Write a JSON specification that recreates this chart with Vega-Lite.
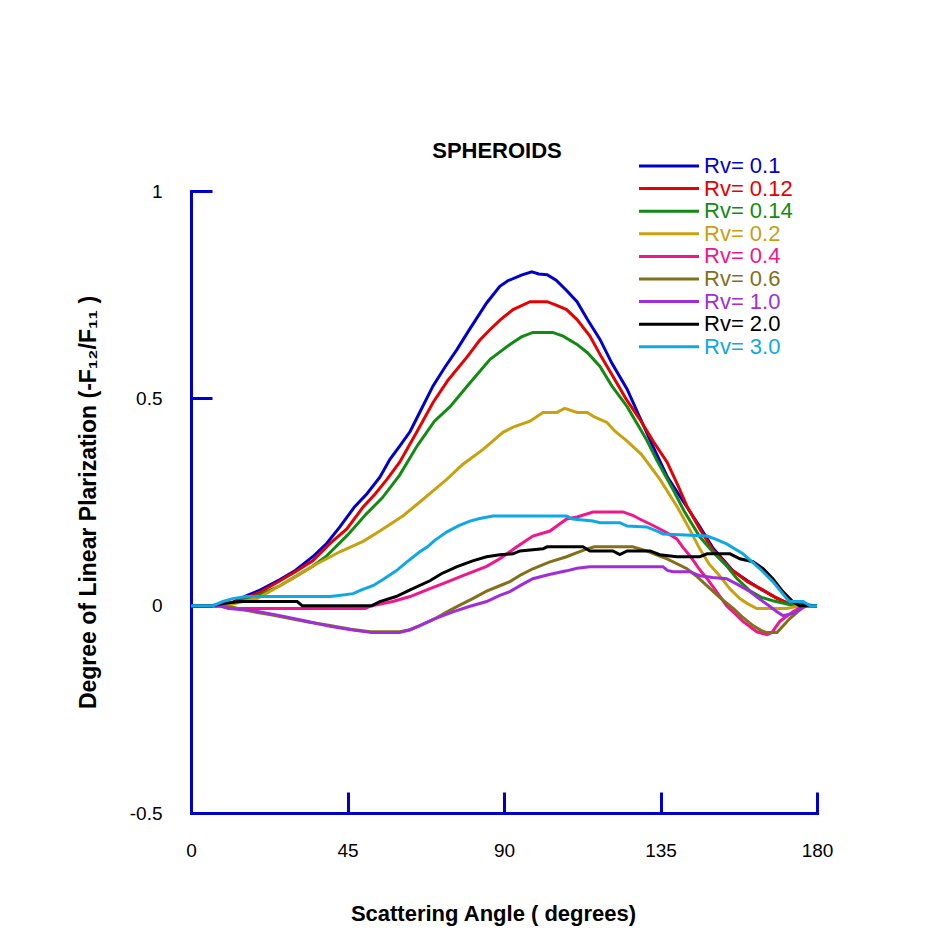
{
  "$schema": "https://vega.github.io/schema/vega-lite/v6.json",
  "width": 626,
  "height": 622,
  "autosize": {"type": "none"},
  "padding": {"left": 191, "top": 191, "right": 124, "bottom": 124},
  "background": "white",
  "title": {"text": "SPHEROIDS", "font": "Liberation Sans", "fontSize": 22, "fontWeight": "bold", "color": "black", "anchor": "middle", "frame": "group", "baseline": "alphabetic", "offset": 33, "dx": -7, "dy": 58},
  "data": {"values": [
    {"Rv":"0.1","angle":0,"P":0},{"Rv":"0.1","angle":8,"P":0},{"Rv":"0.1","angle":12,"P":0.008},{"Rv":"0.1","angle":16,"P":0.024},{"Rv":"0.1","angle":20,"P":0.038},{"Rv":"0.1","angle":25.6,"P":0.063},{"Rv":"0.1","angle":30,"P":0.085},{"Rv":"0.1","angle":35,"P":0.118},{"Rv":"0.1","angle":39,"P":0.15},{"Rv":"0.1","angle":42.8,"P":0.19},{"Rv":"0.1","angle":47,"P":0.238},{"Rv":"0.1","angle":50.6,"P":0.27},{"Rv":"0.1","angle":54.3,"P":0.31},{"Rv":"0.1","angle":57.2,"P":0.353},{"Rv":"0.1","angle":60,"P":0.385},{"Rv":"0.1","angle":63,"P":0.42},{"Rv":"0.1","angle":66,"P":0.47},{"Rv":"0.1","angle":69.6,"P":0.53},{"Rv":"0.1","angle":73,"P":0.575},{"Rv":"0.1","angle":76.5,"P":0.618},{"Rv":"0.1","angle":80,"P":0.665},{"Rv":"0.1","angle":85,"P":0.73},{"Rv":"0.1","angle":88.8,"P":0.77},{"Rv":"0.1","angle":91,"P":0.783},{"Rv":"0.1","angle":95,"P":0.797},{"Rv":"0.1","angle":98,"P":0.805},{"Rv":"0.1","angle":100,"P":0.8},{"Rv":"0.1","angle":102.4,"P":0.798},{"Rv":"0.1","angle":105,"P":0.785},{"Rv":"0.1","angle":108,"P":0.76},{"Rv":"0.1","angle":111,"P":0.733},{"Rv":"0.1","angle":114,"P":0.69},{"Rv":"0.1","angle":117.6,"P":0.642},{"Rv":"0.1","angle":121,"P":0.585},{"Rv":"0.1","angle":125.4,"P":0.522},{"Rv":"0.1","angle":129,"P":0.455},{"Rv":"0.1","angle":132.8,"P":0.385},{"Rv":"0.1","angle":137,"P":0.31},{"Rv":"0.1","angle":142.6,"P":0.238},{"Rv":"0.1","angle":146.3,"P":0.19},{"Rv":"0.1","angle":150,"P":0.14},{"Rv":"0.1","angle":155.8,"P":0.084},{"Rv":"0.1","angle":160,"P":0.06},{"Rv":"0.1","angle":163.6,"P":0.041},{"Rv":"0.1","angle":168,"P":0.02},{"Rv":"0.1","angle":172.2,"P":0.003},{"Rv":"0.1","angle":180,"P":0},

    {"Rv":"0.12","angle":0,"P":0},{"Rv":"0.12","angle":8,"P":0},{"Rv":"0.12","angle":12,"P":0.007},{"Rv":"0.12","angle":16,"P":0.02},{"Rv":"0.12","angle":20,"P":0.033},{"Rv":"0.12","angle":25.6,"P":0.06},{"Rv":"0.12","angle":30,"P":0.082},{"Rv":"0.12","angle":35,"P":0.108},{"Rv":"0.12","angle":40,"P":0.15},{"Rv":"0.12","angle":44.8,"P":0.185},{"Rv":"0.12","angle":49.5,"P":0.238},{"Rv":"0.12","angle":53,"P":0.27},{"Rv":"0.12","angle":56.4,"P":0.305},{"Rv":"0.12","angle":60,"P":0.346},{"Rv":"0.12","angle":65,"P":0.42},{"Rv":"0.12","angle":69.6,"P":0.49},{"Rv":"0.12","angle":74,"P":0.545},{"Rv":"0.12","angle":79.4,"P":0.6},{"Rv":"0.12","angle":83,"P":0.64},{"Rv":"0.12","angle":86,"P":0.666},{"Rv":"0.12","angle":89,"P":0.69},{"Rv":"0.12","angle":92.6,"P":0.714},{"Rv":"0.12","angle":97.5,"P":0.733},{"Rv":"0.12","angle":102.4,"P":0.733},{"Rv":"0.12","angle":105,"P":0.725},{"Rv":"0.12","angle":108,"P":0.714},{"Rv":"0.12","angle":111,"P":0.69},{"Rv":"0.12","angle":114.7,"P":0.65},{"Rv":"0.12","angle":118,"P":0.6},{"Rv":"0.12","angle":121.3,"P":0.553},{"Rv":"0.12","angle":125,"P":0.5},{"Rv":"0.12","angle":129,"P":0.45},{"Rv":"0.12","angle":133,"P":0.395},{"Rv":"0.12","angle":136.9,"P":0.346},{"Rv":"0.12","angle":140,"P":0.29},{"Rv":"0.12","angle":142.6,"P":0.24},{"Rv":"0.12","angle":146.3,"P":0.185},{"Rv":"0.12","angle":150,"P":0.135},{"Rv":"0.12","angle":155,"P":0.09},{"Rv":"0.12","angle":160,"P":0.058},{"Rv":"0.12","angle":164,"P":0.04},{"Rv":"0.12","angle":168,"P":0.02},{"Rv":"0.12","angle":172,"P":0.005},{"Rv":"0.12","angle":180,"P":0},

    {"Rv":"0.14","angle":0,"P":0},{"Rv":"0.14","angle":8,"P":0},{"Rv":"0.14","angle":12,"P":0.005},{"Rv":"0.14","angle":16,"P":0.015},{"Rv":"0.14","angle":20,"P":0.027},{"Rv":"0.14","angle":25.6,"P":0.048},{"Rv":"0.14","angle":30,"P":0.07},{"Rv":"0.14","angle":35,"P":0.095},{"Rv":"0.14","angle":39,"P":0.12},{"Rv":"0.14","angle":45,"P":0.17},{"Rv":"0.14","angle":50.5,"P":0.222},{"Rv":"0.14","angle":55,"P":0.26},{"Rv":"0.14","angle":60,"P":0.315},{"Rv":"0.14","angle":65,"P":0.385},{"Rv":"0.14","angle":70,"P":0.445},{"Rv":"0.14","angle":74.5,"P":0.48},{"Rv":"0.14","angle":80,"P":0.535},{"Rv":"0.14","angle":86,"P":0.594},{"Rv":"0.14","angle":91.7,"P":0.63},{"Rv":"0.14","angle":95,"P":0.648},{"Rv":"0.14","angle":98.3,"P":0.659},{"Rv":"0.14","angle":104,"P":0.659},{"Rv":"0.14","angle":107,"P":0.65},{"Rv":"0.14","angle":111,"P":0.63},{"Rv":"0.14","angle":114,"P":0.61},{"Rv":"0.14","angle":117.6,"P":0.577},{"Rv":"0.14","angle":121,"P":0.53},{"Rv":"0.14","angle":125.4,"P":0.48},{"Rv":"0.14","angle":131,"P":0.4},{"Rv":"0.14","angle":134,"P":0.35},{"Rv":"0.14","angle":138.6,"P":0.28},{"Rv":"0.14","angle":142,"P":0.225},{"Rv":"0.14","angle":146.3,"P":0.166},{"Rv":"0.14","angle":150,"P":0.13},{"Rv":"0.14","angle":154,"P":0.096},{"Rv":"0.14","angle":157,"P":0.065},{"Rv":"0.14","angle":160.7,"P":0.036},{"Rv":"0.14","angle":164,"P":0.02},{"Rv":"0.14","angle":167.3,"P":0.012},{"Rv":"0.14","angle":172,"P":0.003},{"Rv":"0.14","angle":180,"P":0},

    {"Rv":"0.2","angle":0,"P":0},{"Rv":"0.2","angle":8,"P":0},{"Rv":"0.2","angle":12,"P":0.004},{"Rv":"0.2","angle":15,"P":0.01},{"Rv":"0.2","angle":19,"P":0.017},{"Rv":"0.2","angle":25,"P":0.045},{"Rv":"0.2","angle":30.5,"P":0.072},{"Rv":"0.2","angle":36,"P":0.1},{"Rv":"0.2","angle":42.8,"P":0.13},{"Rv":"0.2","angle":49.5,"P":0.155},{"Rv":"0.2","angle":54.3,"P":0.18},{"Rv":"0.2","angle":61,"P":0.217},{"Rv":"0.2","angle":65.8,"P":0.25},{"Rv":"0.2","angle":69.6,"P":0.277},{"Rv":"0.2","angle":73.6,"P":0.305},{"Rv":"0.2","angle":78.2,"P":0.341},{"Rv":"0.2","angle":84,"P":0.377},{"Rv":"0.2","angle":89.7,"P":0.418},{"Rv":"0.2","angle":93,"P":0.432},{"Rv":"0.2","angle":97.5,"P":0.445},{"Rv":"0.2","angle":101.2,"P":0.466},{"Rv":"0.2","angle":105.2,"P":0.466},{"Rv":"0.2","angle":107.5,"P":0.476},{"Rv":"0.2","angle":111,"P":0.466},{"Rv":"0.2","angle":113.9,"P":0.466},{"Rv":"0.2","angle":116,"P":0.455},{"Rv":"0.2","angle":119.6,"P":0.442},{"Rv":"0.2","angle":122,"P":0.42},{"Rv":"0.2","angle":125.4,"P":0.397},{"Rv":"0.2","angle":129.5,"P":0.365},{"Rv":"0.2","angle":134.8,"P":0.305},{"Rv":"0.2","angle":139.7,"P":0.24},{"Rv":"0.2","angle":143,"P":0.19},{"Rv":"0.2","angle":146.3,"P":0.137},{"Rv":"0.2","angle":149,"P":0.1},{"Rv":"0.2","angle":152,"P":0.072},{"Rv":"0.2","angle":155,"P":0.04},{"Rv":"0.2","angle":157.8,"P":0.017},{"Rv":"0.2","angle":160,"P":0.005},{"Rv":"0.2","angle":162.7,"P":-0.007},{"Rv":"0.2","angle":171.3,"P":-0.007},{"Rv":"0.2","angle":175,"P":0},{"Rv":"0.2","angle":180,"P":0},

    {"Rv":"0.4","angle":0,"P":0},{"Rv":"0.4","angle":8,"P":0},{"Rv":"0.4","angle":11,"P":-0.007},{"Rv":"0.4","angle":50,"P":-0.007},{"Rv":"0.4","angle":52,"P":0},{"Rv":"0.4","angle":58,"P":0.01},{"Rv":"0.4","angle":63,"P":0.022},{"Rv":"0.4","angle":68.7,"P":0.041},{"Rv":"0.4","angle":73,"P":0.055},{"Rv":"0.4","angle":78,"P":0.072},{"Rv":"0.4","angle":85,"P":0.095},{"Rv":"0.4","angle":88.8,"P":0.113},{"Rv":"0.4","angle":93.7,"P":0.142},{"Rv":"0.4","angle":98.3,"P":0.168},{"Rv":"0.4","angle":103.2,"P":0.18},{"Rv":"0.4","angle":108,"P":0.209},{"Rv":"0.4","angle":111,"P":0.214},{"Rv":"0.4","angle":115.6,"P":0.226},{"Rv":"0.4","angle":124.2,"P":0.226},{"Rv":"0.4","angle":127,"P":0.218},{"Rv":"0.4","angle":129,"P":0.209},{"Rv":"0.4","angle":132,"P":0.197},{"Rv":"0.4","angle":134.8,"P":0.185},{"Rv":"0.4","angle":137,"P":0.175},{"Rv":"0.4","angle":139.7,"P":0.161},{"Rv":"0.4","angle":141.5,"P":0.14},{"Rv":"0.4","angle":143.5,"P":0.12},{"Rv":"0.4","angle":146,"P":0.09},{"Rv":"0.4","angle":148.4,"P":0.065},{"Rv":"0.4","angle":151,"P":0.035},{"Rv":"0.4","angle":154,"P":0},{"Rv":"0.4","angle":156.5,"P":-0.02},{"Rv":"0.4","angle":158.7,"P":-0.038},{"Rv":"0.4","angle":162.7,"P":-0.063},{"Rv":"0.4","angle":165.6,"P":-0.07},{"Rv":"0.4","angle":167,"P":-0.065},{"Rv":"0.4","angle":169.3,"P":-0.038},{"Rv":"0.4","angle":173,"P":-0.015},{"Rv":"0.4","angle":176,"P":0},{"Rv":"0.4","angle":180,"P":0},

    {"Rv":"0.6","angle":0,"P":0},{"Rv":"0.6","angle":8,"P":0},{"Rv":"0.6","angle":12,"P":-0.004},{"Rv":"0.6","angle":18,"P":-0.015},{"Rv":"0.6","angle":23,"P":-0.022},{"Rv":"0.6","angle":28.5,"P":-0.031},{"Rv":"0.6","angle":34,"P":-0.04},{"Rv":"0.6","angle":40,"P":-0.048},{"Rv":"0.6","angle":46,"P":-0.057},{"Rv":"0.6","angle":51.5,"P":-0.063},{"Rv":"0.6","angle":60,"P":-0.063},{"Rv":"0.6","angle":63,"P":-0.058},{"Rv":"0.6","angle":65.8,"P":-0.048},{"Rv":"0.6","angle":70,"P":-0.032},{"Rv":"0.6","angle":73.6,"P":-0.015},{"Rv":"0.6","angle":77,"P":0},{"Rv":"0.6","angle":81,"P":0.017},{"Rv":"0.6","angle":85,"P":0.035},{"Rv":"0.6","angle":88.8,"P":0.048},{"Rv":"0.6","angle":91.7,"P":0.058},{"Rv":"0.6","angle":95,"P":0.075},{"Rv":"0.6","angle":98.3,"P":0.089},{"Rv":"0.6","angle":103,"P":0.105},{"Rv":"0.6","angle":108,"P":0.118},{"Rv":"0.6","angle":111,"P":0.128},{"Rv":"0.6","angle":113.9,"P":0.137},{"Rv":"0.6","angle":116,"P":0.142},{"Rv":"0.6","angle":127,"P":0.142},{"Rv":"0.6","angle":131,"P":0.132},{"Rv":"0.6","angle":134,"P":0.122},{"Rv":"0.6","angle":136.9,"P":0.113},{"Rv":"0.6","angle":142.6,"P":0.089},{"Rv":"0.6","angle":145.5,"P":0.07},{"Rv":"0.6","angle":148.4,"P":0.048},{"Rv":"0.6","angle":152,"P":0.02},{"Rv":"0.6","angle":156,"P":-0.007},{"Rv":"0.6","angle":158.5,"P":-0.027},{"Rv":"0.6","angle":161.6,"P":-0.048},{"Rv":"0.6","angle":164,"P":-0.06},{"Rv":"0.6","angle":165.6,"P":-0.065},{"Rv":"0.6","angle":168.5,"P":-0.065},{"Rv":"0.6","angle":172.2,"P":-0.031},{"Rv":"0.6","angle":176.5,"P":0},{"Rv":"0.6","angle":180,"P":0},

    {"Rv":"1.0","angle":0,"P":0},{"Rv":"1.0","angle":8,"P":0},{"Rv":"1.0","angle":11,"P":-0.007},{"Rv":"1.0","angle":18,"P":-0.012},{"Rv":"1.0","angle":25.6,"P":-0.024},{"Rv":"1.0","angle":33,"P":-0.037},{"Rv":"1.0","angle":40,"P":-0.05},{"Rv":"1.0","angle":46,"P":-0.058},{"Rv":"1.0","angle":52,"P":-0.065},{"Rv":"1.0","angle":60,"P":-0.065},{"Rv":"1.0","angle":63,"P":-0.058},{"Rv":"1.0","angle":65.8,"P":-0.048},{"Rv":"1.0","angle":70,"P":-0.032},{"Rv":"1.0","angle":75.3,"P":-0.015},{"Rv":"1.0","angle":80,"P":-0.002},{"Rv":"1.0","angle":85,"P":0.01},{"Rv":"1.0","angle":88.8,"P":0.025},{"Rv":"1.0","angle":91.7,"P":0.034},{"Rv":"1.0","angle":95,"P":0.05},{"Rv":"1.0","angle":98.3,"P":0.065},{"Rv":"1.0","angle":103,"P":0.075},{"Rv":"1.0","angle":108,"P":0.084},{"Rv":"1.0","angle":111,"P":0.09},{"Rv":"1.0","angle":114.7,"P":0.094},{"Rv":"1.0","angle":135.7,"P":0.094},{"Rv":"1.0","angle":137,"P":0.085},{"Rv":"1.0","angle":138.6,"P":0.082},{"Rv":"1.0","angle":143.5,"P":0.082},{"Rv":"1.0","angle":146.3,"P":0.072},{"Rv":"1.0","angle":150,"P":0.068},{"Rv":"1.0","angle":154,"P":0.065},{"Rv":"1.0","angle":157,"P":0.052},{"Rv":"1.0","angle":160.7,"P":0.034},{"Rv":"1.0","angle":163.5,"P":0.016},{"Rv":"1.0","angle":166.5,"P":-0.002},{"Rv":"1.0","angle":168.5,"P":-0.015},{"Rv":"1.0","angle":170.2,"P":-0.024},{"Rv":"1.0","angle":173,"P":-0.019},{"Rv":"1.0","angle":177,"P":0},{"Rv":"1.0","angle":180,"P":0},

    {"Rv":"2.0","angle":0,"P":0},{"Rv":"2.0","angle":6,"P":0},{"Rv":"2.0","angle":9.2,"P":0.005},{"Rv":"2.0","angle":14,"P":0.01},{"Rv":"2.0","angle":30.5,"P":0.01},{"Rv":"2.0","angle":32,"P":0},{"Rv":"2.0","angle":52,"P":0},{"Rv":"2.0","angle":54.3,"P":0.01},{"Rv":"2.0","angle":59,"P":0.022},{"Rv":"2.0","angle":63,"P":0.038},{"Rv":"2.0","angle":68.7,"P":0.06},{"Rv":"2.0","angle":72,"P":0.077},{"Rv":"2.0","angle":76.5,"P":0.094},{"Rv":"2.0","angle":81,"P":0.108},{"Rv":"2.0","angle":85,"P":0.118},{"Rv":"2.0","angle":88.8,"P":0.123},{"Rv":"2.0","angle":92.6,"P":0.125},{"Rv":"2.0","angle":94.6,"P":0.132},{"Rv":"2.0","angle":101.2,"P":0.137},{"Rv":"2.0","angle":102.4,"P":0.142},{"Rv":"2.0","angle":112.7,"P":0.142},{"Rv":"2.0","angle":114.7,"P":0.132},{"Rv":"2.0","angle":121.3,"P":0.132},{"Rv":"2.0","angle":123.3,"P":0.123},{"Rv":"2.0","angle":125.4,"P":0.132},{"Rv":"2.0","angle":132,"P":0.132},{"Rv":"2.0","angle":134.8,"P":0.123},{"Rv":"2.0","angle":139.7,"P":0.118},{"Rv":"2.0","angle":146.3,"P":0.118},{"Rv":"2.0","angle":148.4,"P":0.125},{"Rv":"2.0","angle":155,"P":0.125},{"Rv":"2.0","angle":157.8,"P":0.113},{"Rv":"2.0","angle":161.6,"P":0.106},{"Rv":"2.0","angle":164.5,"P":0.089},{"Rv":"2.0","angle":167.3,"P":0.065},{"Rv":"2.0","angle":170.2,"P":0.034},{"Rv":"2.0","angle":173,"P":0.01},{"Rv":"2.0","angle":175,"P":0},{"Rv":"2.0","angle":180,"P":0},

    {"Rv":"3.0","angle":0,"P":0},{"Rv":"3.0","angle":6.3,"P":0},{"Rv":"3.0","angle":9.2,"P":0.01},{"Rv":"3.0","angle":12,"P":0.017},{"Rv":"3.0","angle":16,"P":0.022},{"Rv":"3.0","angle":40,"P":0.022},{"Rv":"3.0","angle":42,"P":0.024},{"Rv":"3.0","angle":46.6,"P":0.029},{"Rv":"3.0","angle":49,"P":0.038},{"Rv":"3.0","angle":52.3,"P":0.048},{"Rv":"3.0","angle":55,"P":0.062},{"Rv":"3.0","angle":59,"P":0.084},{"Rv":"3.0","angle":62,"P":0.105},{"Rv":"3.0","angle":65.8,"P":0.13},{"Rv":"3.0","angle":68,"P":0.142},{"Rv":"3.0","angle":70,"P":0.157},{"Rv":"3.0","angle":73.6,"P":0.178},{"Rv":"3.0","angle":77,"P":0.193},{"Rv":"3.0","angle":80.2,"P":0.204},{"Rv":"3.0","angle":83,"P":0.21},{"Rv":"3.0","angle":86.8,"P":0.216},{"Rv":"3.0","angle":108,"P":0.216},{"Rv":"3.0","angle":109.8,"P":0.209},{"Rv":"3.0","angle":115.6,"P":0.204},{"Rv":"3.0","angle":117.6,"P":0.2},{"Rv":"3.0","angle":123.3,"P":0.2},{"Rv":"3.0","angle":125.4,"P":0.192},{"Rv":"3.0","angle":131,"P":0.19},{"Rv":"3.0","angle":134,"P":0.18},{"Rv":"3.0","angle":135.7,"P":0.173},{"Rv":"3.0","angle":148.4,"P":0.168},{"Rv":"3.0","angle":151,"P":0.16},{"Rv":"3.0","angle":154,"P":0.149},{"Rv":"3.0","angle":158.7,"P":0.125},{"Rv":"3.0","angle":163.6,"P":0.089},{"Rv":"3.0","angle":167.3,"P":0.058},{"Rv":"3.0","angle":171.3,"P":0.017},{"Rv":"3.0","angle":172.2,"P":0.01},{"Rv":"3.0","angle":176,"P":0.01},{"Rv":"3.0","angle":178,"P":0},{"Rv":"3.0","angle":180,"P":0}
  ]},
  "mark": {"type": "line", "strokeWidth": 3, "interpolate": "linear", "clip": false},
  "encoding": {
    "x": {
      "field": "angle", "type": "quantitative",
      "scale": {"domain": [0, 180], "nice": false, "zero": false},
      "axis": {"values": [0, 45, 90, 135, 180], "format": "d", "title": "Scattering Angle ( degrees)", "titleX": 302, "titleY": 107, "titleBaseline": "alphabetic", "titleAnchor": null, "titleFontSize": 22, "labelPadding": 49, "labelFlush": false}
    },
    "y": {
      "field": "P", "type": "quantitative",
      "scale": {"domain": [-0.5, 1], "nice": false, "zero": false},
      "axis": {"values": [-0.5, 0, 0.5, 1], "labelExpr": "datum.value == -0.5 ? '-0.5' : format(datum.value, '~g')", "title": "Degree of Linear Plarization (-F₁₂/F₁₁ )", "titleX": -96, "titleY": 311, "titleBaseline": "alphabetic", "titleAngle": -90, "titleFontSize": 23, "labelPadding": 50, "labelFlush": false}
    },
    "color": {
      "field": "Rv", "type": "nominal",
      "scale": {
        "domain": ["0.1", "0.12", "0.14", "0.2", "0.4", "0.6", "1.0", "2.0", "3.0"],
        "range": ["#0000CC", "#E60000", "#138A13", "#C8A010", "#F0168C", "#83701A", "#A02ED8", "#000000", "#0FA8E6"]
      },
      "legend": {
        "orient": "none", "legendX": 467, "legendY": -36, "title": null,
        "labelExpr": "'Rv= ' + datum.label",
        "symbolType": "M-5,0L5,0", "symbolSize": 144, "symbolStrokeWidth": 3,
        "labelFont": "Liberation Sans", "labelFontSize": 22, "labelOffset": 24,
        "rowPadding": 0.6, "padding": 0, "labelLimit": 200,
        "encode": {"labels": {"update": {"fill": {"scale": "color", "field": "value"}}}}
      }
    }
  },
  "config": {
    "view": {"stroke": null},
    "axis": {
      "grid": false,
      "domainColor": "#0000CC", "domainWidth": 3, "domainCap": "square",
      "tickColor": "#0000CC", "tickWidth": 3, "tickSize": -21,
      "labelFont": "Liberation Sans", "labelFontSize": 19, "labelColor": "black",
      "titleFont": "Liberation Sans", "titleFontWeight": "bold", "titleColor": "black"
    }
  }
}
